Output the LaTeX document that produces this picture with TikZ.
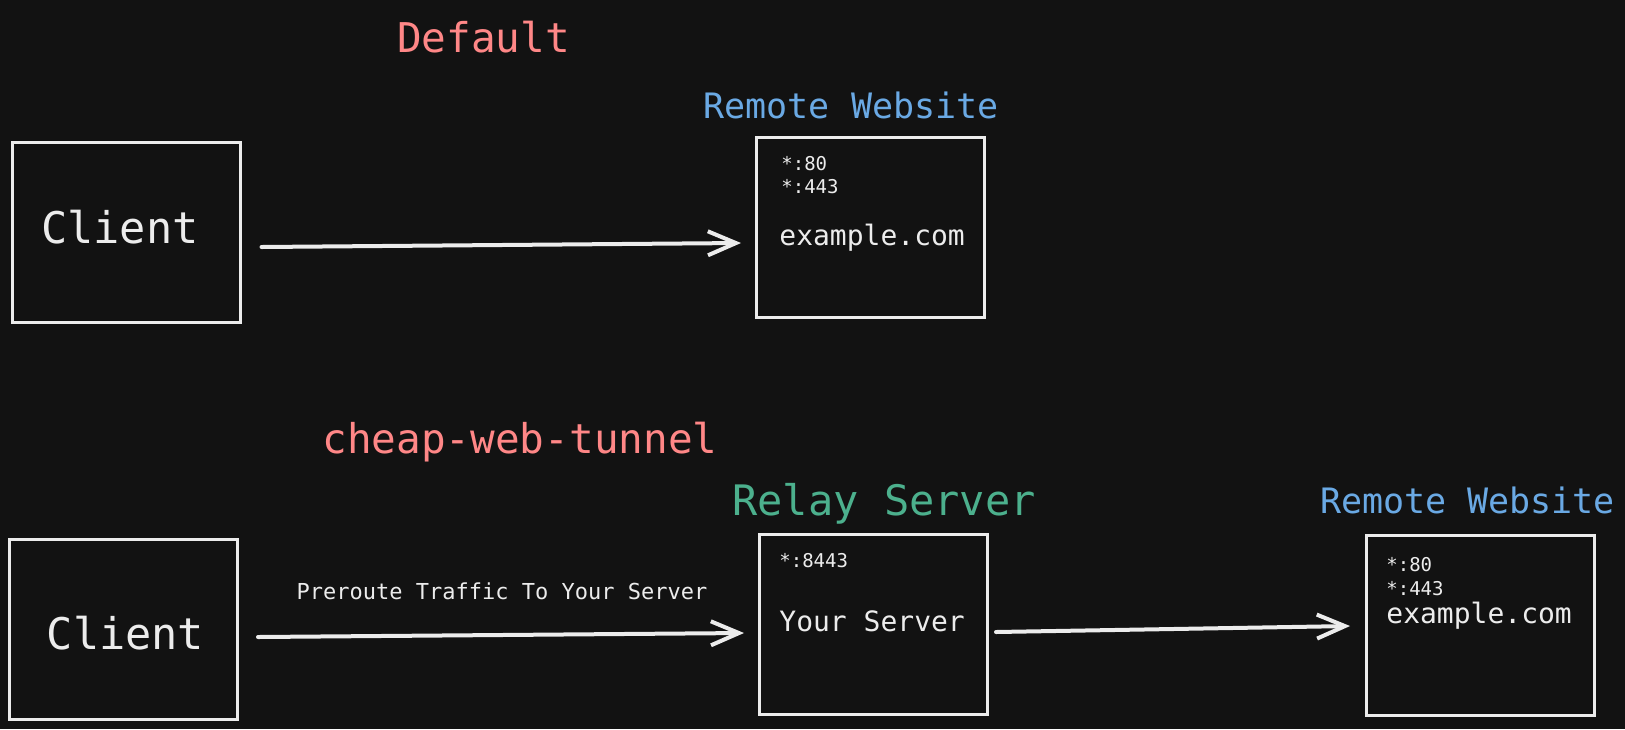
\documentclass[tikz,border=0pt]{standalone}
\usepackage{fontspec}
\setmonofont{DejaVu Sans Mono}
\usepackage{tikz}
\usetikzlibrary{arrows.meta}
\definecolor{bgcol}{HTML}{121212}
\definecolor{inkcol}{HTML}{ECECEC}
\definecolor{titlered}{HTML}{FF8787}
\definecolor{siteblue}{HTML}{6AA9E4}
\definecolor{relaygreen}{HTML}{4CB08D}

\begin{document}
\begin{tikzpicture}[x=0.5pt,y=-0.5pt,
		font=\ttfamily,
		box/.style={rectangle,draw=inkcol,line width=1.5pt,inner sep=0pt,
			minimum width=114pt,minimum height=90pt},
		txt/.style={inner sep=0pt,anchor=base,text=inkcol},
		port/.style={txt,anchor=base west,font=\ttfamily\fontsize{9.5}{11}\selectfont},
		host/.style={txt,anchor=base west,font=\ttfamily\fontsize{14}{16}\selectfont},
		title/.style={inner sep=0pt,anchor=base,text=titlered,font=\ttfamily\fontsize{20.5}{24}\selectfont},
		flow/.style={draw=inkcol,line width=2pt,line cap=round,
			-{Straight Barb[length=14pt,width=12pt,line width=2pt]}},
		]
		\fill[bgcol] (0,0) rectangle (1625,729);
		\useasboundingbox (0,0) rectangle (1625,729);

		% Default
		\node[title] (default) at (483.5,52) {Default};
		\node[box] (client1) at (126,232) {};
		\node[txt,font=\ttfamily\fontsize{21.8}{24}\selectfont] (client1txt) at (120,243) {Client};
		\node[box] (site1) at (870.5,227) {};
		\node[txt,text=siteblue,font=\ttfamily\fontsize{17.5}{20}\selectfont] (site1lbl) at (851,118) {Remote Website};
		\node[port] (site1p80) at (781,170) {*:80};
		\node[port] (site1p443) at (781,193) {*:443};
		\node[host] (site1host) at (779,245) {example.com};
		\draw[flow] ([shift={(20,15)}]client1.east) -- ([shift={(-14,16)}]site1.west);

		% cheap-web-tunnel
		\node[title] (tunnel) at (520,453) {cheap-web-tunnel};
		\node[box] (client2) at (123.5,629) {};
		\node[txt,font=\ttfamily\fontsize{21.8}{24}\selectfont] (client2txt) at (125.5,649) {Client};
		\node[box] (relay) at (873.5,624.5) {};
		\node[txt,text=relaygreen,font=\ttfamily\fontsize{21}{24}\selectfont] (relaylbl) at (884,515) {Relay Server};
		\node[port] (relayp) at (779,567) {*:8443};
		\node[host] (relayhost) at (779,631) {Your Server};
		\node[box] (site2) at (1480.5,625) {};
		\node[txt,text=siteblue,font=\ttfamily\fontsize{17.5}{20}\selectfont] (site2lbl) at (1467.5,513) {Remote Website};
		\node[port] (site2p80) at (1386,571) {*:80};
		\node[port] (site2p443) at (1386,595) {*:443};
		\node[host] (site2host) at (1386,623) {example.com};
		\node[txt,font=\ttfamily\fontsize{11}{13}\selectfont] (prelbl) at (502,599) {Preroute Traffic To Your Server};
		\draw[flow] ([shift={(19,8)}]client2.east) -- ([shift={(-14,8.5)}]relay.west);
		\draw[flow] ([shift={(7,7.5)}]relay.east) -- ([shift={(-15,1)}]site2.west);
	\end{tikzpicture}
\end{document}
